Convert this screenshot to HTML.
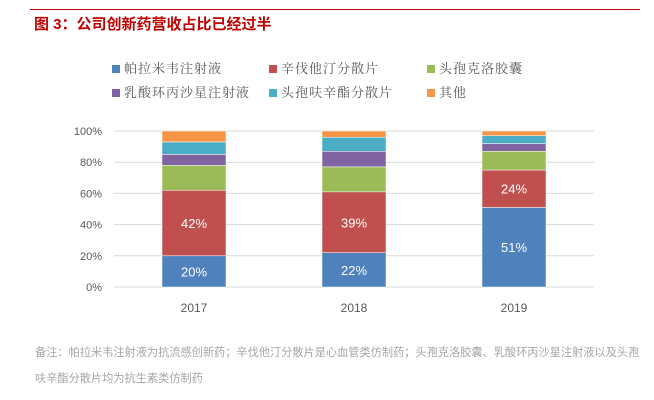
<!DOCTYPE html>
<html><head><meta charset="utf-8"><style>
body{margin:0;background:#fff;width:654px;height:400px;position:relative;overflow:hidden;font-family:"Liberation Sans","Noto Sans CJK SC",sans-serif}
.abs{position:absolute;white-space:nowrap}
.leg{position:absolute;font-family:"Liberation Serif","Noto Serif CJK SC",serif;font-size:13px;letter-spacing:1px;color:#595959;line-height:16px}
.leg i{display:inline-block;width:8px;height:8px;margin-right:4px;vertical-align:0px}
</style></head><body>
<div class="abs" style="left:30px;top:9px;width:610px;height:1px;background:#c00000"></div>
<div class="abs" style="left:34px;top:13px;font-size:15px;font-weight:bold;color:#c00000">图 3：公司创新药营收占比已经过半</div>
<div>
<div class="leg" style="left:112px;top:61px"><i style="background:#4f81bd"></i>帕拉米韦注射液</div>
<div class="leg" style="left:269px;top:61px"><i style="background:#c0504d"></i>辛伐他汀分散片</div>
<div class="leg" style="left:427px;top:61px"><i style="background:#9bbb59"></i>头孢克洛胶囊</div>
<div class="leg" style="left:112px;top:85px"><i style="background:#8064a2"></i>乳酸环丙沙星注射液</div>
<div class="leg" style="left:269px;top:85px"><i style="background:#4bacc6"></i>头孢呋辛酯分散片</div>
<div class="leg" style="left:427px;top:85px"><i style="background:#f79646"></i>其他</div>
</div>
<svg id="chart" width="654" height="400" style="position:absolute;left:0;top:0"></svg>
<div class="abs" style="left:35px;top:340px;font-size:11.2px;color:#a6a6a6;line-height:26px">备注：帕拉米韦注射液为抗流感创新药；辛伐他汀分散片是心血管类仿制药；头孢克洛胶囊、乳酸环丙沙星注射液以及头孢<br>呋辛酯分散片均为抗生素类仿制药</div>
<script>
const categories=["2017","2018","2019"];
const seriesNames=["帕拉米韦注射液","辛伐他汀分散片","头孢克洛胶囊","乳酸环丙沙星注射液","头孢呋辛酯分散片","其他"];
const s1=[20,22,51];
const s2=[42,39,24];
const s3=[16,16,12];
const s4=[7,10,5];
const s5=[8,9,5];
const s6=[7,4,3];
const yTicks=[0,20,40,60,80,100];
const colors=["#4f81bd","#c0504d","#9bbb59","#8064a2","#4bacc6","#f79646"];
const series=[s1,s2,s3,s4,s5,s6];
const NS="http://www.w3.org/2000/svg";
const svg=document.getElementById('chart');
const x0=114,x1=594,yTop=131,yBot=287,barW=64;
function y(v){return yBot-(v/100)*(yBot-yTop);}
function xc(i){return x0+(x1-x0)*(i+0.5)/categories.length;}
function mk(t,a){const e=document.createElementNS(NS,t);for(const k in a)e.setAttribute(k,a[k]);svg.appendChild(e);return e;}
yTicks.forEach(v=>{
 const l=mk('line',{x1:x0,x2:x1,y1:y(v),y2:y(v),stroke:'#d9d9d9','stroke-width':1});
 
 
 const t=mk('text',{x:x0-12,y:y(v)+4,'text-anchor':'end','font-size':11,fill:'#595959','font-family':'Liberation Sans, sans-serif'});
 t.textContent=v+'%';
 
 
});
categories.forEach((c,i)=>{
 let acc=0;
 series.forEach((s,j)=>{
  const v=s[i];
  const r=mk('rect',{x:xc(i)-barW/2,y:y(acc+v),width:barW,height:y(acc)-y(acc+v),fill:colors[j],stroke:'#fff','stroke-width':0.5});
  
  
  if(j<2){
   const t=mk('text',{x:xc(i),y:(y(acc)+y(acc+v))/2+5,'text-anchor':'middle','font-size':13,fill:'#fff','font-family':'Liberation Sans, sans-serif'});
   t.textContent=v+'%';
   
   
  }
  acc+=v;
 });
 const t=mk('text',{x:xc(i),y:312,'text-anchor':'middle','font-size':12,fill:'#595959','font-family':'Liberation Sans, sans-serif'});
 t.textContent=c;
 
 
});
</script>
</body></html>
